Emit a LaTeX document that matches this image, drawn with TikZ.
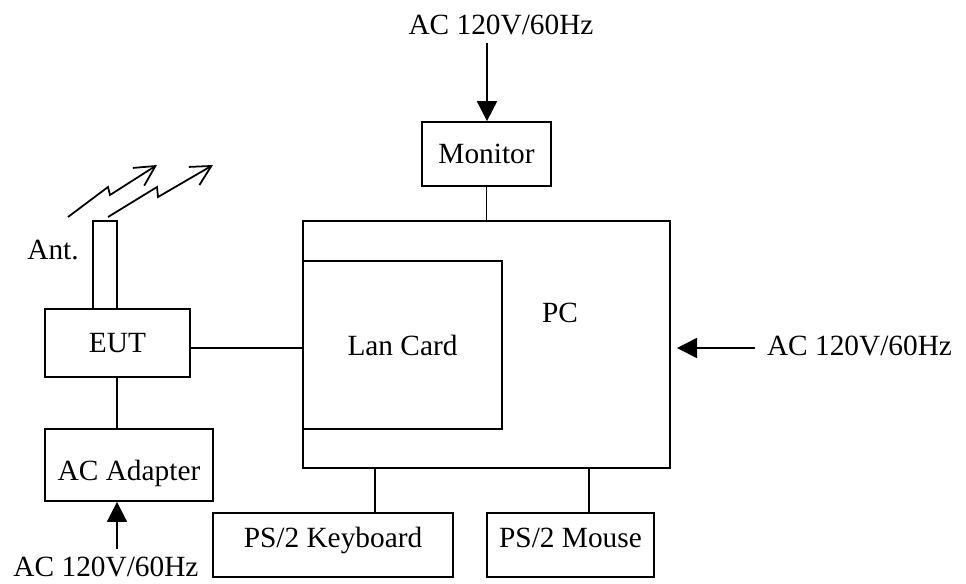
\documentclass[tikz,border=0pt]{standalone}
\usepackage{fontspec}
\setmainfont{Liberation Serif}
\usetikzlibrary{arrows.meta}
\begin{document}
\begin{tikzpicture}[x=0.02cm, y=0.02cm, line width=1pt]
\tikzstyle{every node}+=[inner sep=0pt, font=\fontsize{16.7}{20}\selectfont]
\tikzstyle{blk}=[draw=black, line width=1pt]
\tikzstyle{pwr}=[-{Triangle[length=0.4cm,width=0.4cm]}]
\tikzstyle{rf}=[-{Straight Barb[length=0.4cm,width=0.42cm]}]
\useasboundingbox (0,0) rectangle (966,-583);
\node [blk, minimum width=2.58cm, minimum height=1.28cm] (monitor) at (486.5,-154) {Monitor};
\node [blk, minimum width=7.34cm, minimum height=4.94cm] (pc) at (486.5,-344.5) {};
\node (pclabel) at (560,-313) {PC};
\node [blk, minimum width=3.98cm, minimum height=3.36cm] (lan) at (402.5,-345) {Lan Card};
\node [blk, minimum width=2.9cm, minimum height=1.36cm] (eut) at (117.5,-343) {EUT};
\node [blk, minimum width=0.48cm, minimum height=1.76cm] (ant) at (105,-265) {};
\node (antlabel) at (53,-250) {Ant.};
\node [blk, minimum width=3.36cm, minimum height=1.44cm,
  label={[yshift=-0.16cm]center:AC Adapter}] (adapter) at (129,-465) {};
\node [blk, minimum width=4.8cm, minimum height=1.28cm,
  label={[yshift=0.15cm, text depth=0pt]center:PS/2 Keyboard}] (kbd) at (333,-545) {};
\node [blk, minimum width=3.34cm, minimum height=1.28cm,
  label={[yshift=0.15cm, text depth=0pt]center:PS/2 Mouse}] (mouse) at (570.5,-545) {};
\node (actop) at (501,-25) {AC 120V/60Hz};
\node (acright) at (859.5,-346) {AC 120V/60Hz};
\node (acbot) at (106,-567) {AC 120V/60Hz};
\coordinate (topin) at (487,-43);
\coordinate (rightin) at (755,-348);
\coordinate (pcin) at (677,-348);
\coordinate (botin) at (117,-549);
% power feeds
\draw [pwr] (topin) -- (topin |- monitor.north);
\draw [pwr] (rightin) -- (pcin);
\draw [pwr] (botin) -- (botin |- adapter.south);
% cables
\draw (monitor.south) -- (pc.north);
\draw (eut.east |- 0,-348) -- (lan.west |- 0,-348);
\draw (eut.south -| 117,0) -- (adapter.north -| 117,0);
\draw (pc.south -| 375,0) -- (kbd.north -| 375,0);
\draw (pc.south -| 589,0) -- (mouse.north -| 589,0);
% radio link
\draw [rf] (68,-217) -- (108,-187) -- (110,-195) -- (157,-165);
\draw [rf] (108,-217) -- (157,-187) -- (158,-197) -- (213,-165);
\end{tikzpicture}
\end{document}
